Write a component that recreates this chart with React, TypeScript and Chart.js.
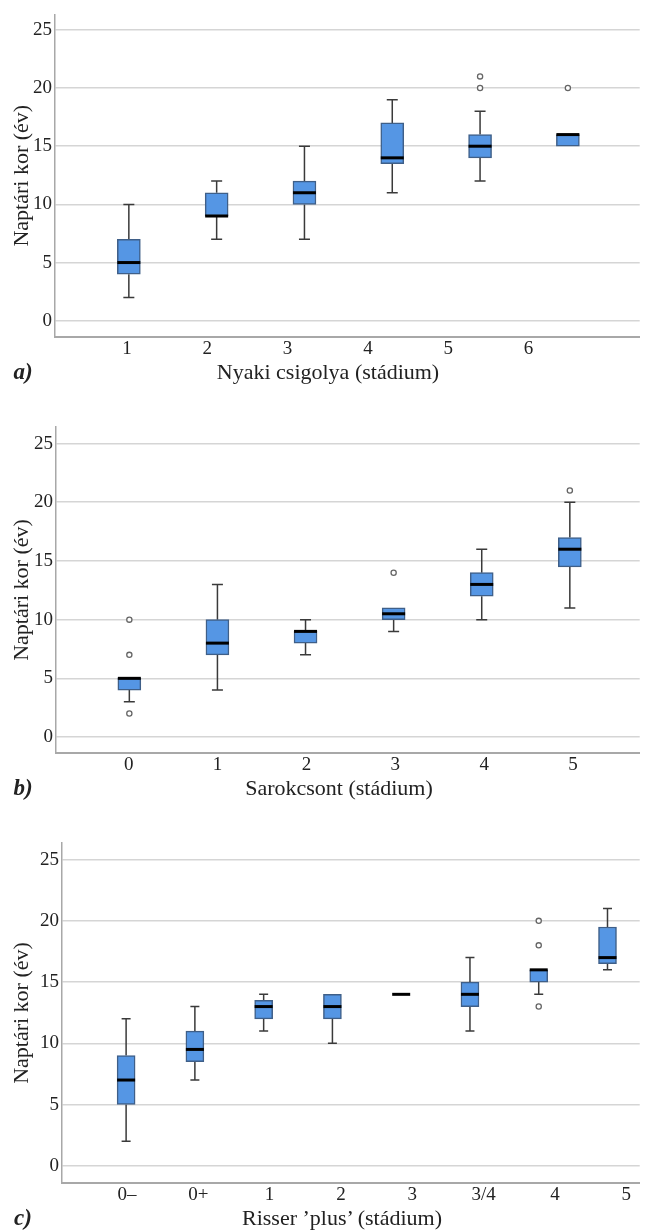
import React, { useEffect, useRef } from 'react';
import { Chart, registerables } from 'chart.js';

Chart.register(...registerables);

const FONT = "'Liberation Serif', 'Times New Roman', serif";
const TEXT = '#222222';
const yTicks = [0, 5, 10, 15, 20, 25];
const yTitle = 'Naptári kor (év)';

// Panel a) Nyaki csigolya
const catsA = ['1', '2', '3', '4', '5', '6'];
const minA = [2, 7, 7, 11, 12, 15];
const q1A = [4, 9, 10, 13.5, 14, 15];
const medA = [5, 9, 11, 14, 15, 16];
const q3A = [7, 11, 12, 17, 16, 16];
const maxA = [10, 12, 15, 19, 18, 16];
const outA = [[], [], [], [], [20, 21], [20]];

// Panel b) Sarokcsont
const catsB = ['0', '1', '2', '3', '4', '5'];
const minB = [3, 4, 7, 9, 10, 11];
const q1B = [4, 7, 8, 10, 12, 14.5];
const medB = [5, 8, 9, 10.5, 13, 16];
const q3B = [5, 10, 9, 11, 14, 17];
const maxB = [5, 13, 10, 11, 16, 20];
const outB = [[2, 7, 10], [], [], [14], [], [21]];

// Panel c) Risser 'plus'
const catsC = ['0–', '0+', '1', '2', '3', '3/4', '4', '5'];
const minC = [2, 7, 11, 10, 14, 11, 14, 16];
const q1C = [5, 8.5, 12, 12, 14, 13, 15, 16.5];
const medC = [7, 9.5, 13, 13, 14, 14, 16, 17];
const q3C = [9, 11, 13.5, 14, 14, 15, 16, 19.5];
const maxC = [12, 13, 14, 14, 14, 17, 16, 21];
const outC = [[], [], [], [], [], [], [13, 18, 20], []];

type Spec = {
  cats: string[];
  mins: number[];
  q1s: number[];
  meds: number[];
  q3s: number[];
  maxs: number[];
  outs: number[][];
  top: number;
  height: number;
  padTop: number;
  yWidth: number;
  boxMin: number;
  boxMax: number;
  labMin: number;
  labMax: number;
  yMin: number;
  yMax: number;
  boxW: number;
  capW: number;
  xTitle: string;
  xTitleX: number;
  xTitleY: number;
  letter: string;
};

const specs: Spec[] = [
  {
    cats: catsA, mins: minA, q1s: q1A, meds: medA, q3s: q3A, maxs: maxA, outs: outA,
    top: 0, height: 365, padTop: 12, yWidth: 55,
    boxMin: -0.841, boxMax: 5.818, labMin: -0.896, labMax: 6.384,
    yMin: -1.4, yMax: 26.33, boxW: 23, capW: 11,
    xTitle: 'Nyaki csigolya (stádium)', xTitleX: 328, xTitleY: 372, letter: 'a)',
  },
  {
    cats: catsB, mins: minB, q1s: q1B, meds: medB, q3s: q3B, maxs: maxB, outs: outB,
    top: 400, height: 381, padTop: 27, yWidth: 56,
    boxMin: -(130 - 56) / 88.9, boxMax: -(130 - 56) / 88.9 + 589 / 88.9,
    labMin: -(129.3 - 56) / 89.7, labMax: -(129.3 - 56) / 89.7 + 589 / 89.7,
    yMin: -1.36, yMax: 26.41, boxW: 23, capW: 11,
    xTitle: 'Sarokcsont (stádium)', xTitleX: 339, xTitleY: 788, letter: 'b)',
  },
  {
    cats: catsC, mins: minC, q1s: q1C, meds: medC, q3s: q3C, maxs: maxC, outs: outC,
    top: 820, height: 391, padTop: 23, yWidth: 62,
    boxMin: -(126.7 - 62) / 69.4, boxMax: -(126.7 - 62) / 69.4 + 583 / 69.4,
    labMin: -(127.5 - 62) / 72, labMax: -(127.5 - 62) / 72 + 583 / 72,
    yMin: -1.41, yMax: 26.36, boxW: 18, capW: 9,
    xTitle: 'Risser ’plus’ (stádium)', xTitleX: 342, xTitleY: 1218, letter: 'c)',
  },
];

function makeBoxPlugin(s: Spec) {
  return {
    id: 'boxWhiskers',
    beforeDatasetsDraw(chart: any) {
      const ctx = chart.ctx;
      const xs = chart.scales.xb;
      const ys = chart.scales.y;
      ctx.save();
      ctx.strokeStyle = '#3a3a3a';
      ctx.lineWidth = 1.5;
      s.cats.forEach((_, i) => {
        const x = xs.getPixelForValue(i);
        const segs: [number, number][] = [];
        if (s.mins[i] < s.q1s[i]) segs.push([s.mins[i], s.q1s[i]]);
        if (s.maxs[i] > s.q3s[i]) segs.push([s.maxs[i], s.q3s[i]]);
        segs.forEach(([end, edge]) => {
          const yE = ys.getPixelForValue(end);
          const yB = ys.getPixelForValue(edge);
          ctx.beginPath();
          ctx.moveTo(x, yE);
          ctx.lineTo(x, yB);
          ctx.moveTo(x - s.capW / 2, yE);
          ctx.lineTo(x + s.capW / 2, yE);
          ctx.stroke();
        });
      });
      ctx.restore();
    },
    afterDatasetsDraw(chart: any) {
      const ctx = chart.ctx;
      const xs = chart.scales.xb;
      const ys = chart.scales.y;
      ctx.save();
      ctx.strokeStyle = '#000000';
      ctx.lineWidth = 3;
      s.cats.forEach((_, i) => {
        const x = xs.getPixelForValue(i);
        const y = ys.getPixelForValue(s.meds[i]);
        ctx.beginPath();
        ctx.moveTo(x - s.boxW / 2, y);
        ctx.lineTo(x + s.boxW / 2, y);
        ctx.stroke();
      });
      ctx.restore();
    },
  };
}

function Panel({ s }: { s: Spec }) {
  const ref = useRef<HTMLCanvasElement | null>(null);
  useEffect(() => {
    if (!ref.current) return;
    const outliers: { x: number; y: number }[] = [];
    s.outs.forEach((arr, i) => arr.forEach((v) => outliers.push({ x: i, y: v })));
    const chart = new Chart(ref.current, {
      type: 'bar',
      data: {
        datasets: [
          {
            type: 'bar',
            data: s.cats.map((_, i) => ({ x: i, y: [s.q1s[i], s.q3s[i]] })) as any,
            xAxisID: 'xb',
            yAxisID: 'y',
            backgroundColor: '#5596e4',
            borderColor: '#3f5f88',
            borderWidth: 1.5,
            borderSkipped: false,
            barThickness: s.boxW,
          } as any,
          {
            type: 'scatter',
            data: outliers,
            xAxisID: 'xb',
            yAxisID: 'y',
            pointRadius: 2.6,
            pointBackgroundColor: '#ffffff',
            pointBorderColor: '#666666',
            pointBorderWidth: 1.3,
            showLine: false,
          } as any,
        ],
      },
      options: {
        responsive: false,
        animation: false,
        layout: { padding: { top: s.padTop, left: 0, right: 0, bottom: 0 } },
        plugins: { legend: { display: false }, tooltip: { enabled: false } },
        scales: {
          xb: {
            type: 'linear',
            display: false,
            offset: false,
            grid: { offset: false },
            min: s.boxMin,
            max: s.boxMax,
          },
          x: {
            type: 'linear',
            position: 'bottom',
            offset: false,
            min: s.labMin,
            max: s.labMax,
            grid: { display: false, drawTicks: false, offset: false },
            border: { display: true, color: '#a8a8a8', width: 2 },
            afterBuildTicks: (scale: any) => {
              scale.ticks = s.cats.map((_, i) => ({ value: i }));
            },
            afterFit: (scale: any) => {
              scale.height = 28;
            },
            ticks: {
              autoSkip: false,
              maxRotation: 0,
              padding: 1,
              color: TEXT,
              font: { family: FONT, size: 19 },
              callback: (v: any) => s.cats[v as number],
            },
          },
          y: {
            type: 'linear',
            min: s.yMin,
            max: s.yMax,
            afterBuildTicks: (scale: any) => {
              scale.ticks = yTicks.map((v) => ({ value: v }));
            },
            afterFit: (scale: any) => {
              scale.width = s.yWidth;
            },
            grid: { color: '#d5d5d5', lineWidth: 1.5, drawTicks: false },
            border: { display: true, color: '#a8a8a8', width: 1.5 },
            ticks: {
              padding: 3,
              color: TEXT,
              font: { family: FONT, size: 19 },
            },
            title: {
              display: true,
              text: yTitle,
              color: TEXT,
              font: { family: FONT, size: 22 },
              padding: { top: 9, bottom: 0 },
            },
          },
        } as any,
      },
      plugins: [makeBoxPlugin(s)],
    });
    return () => chart.destroy();
  }, [s]);

  const textStyle: React.CSSProperties = {
    position: 'absolute',
    fontFamily: FONT,
    color: TEXT,
    fontSize: 22,
    lineHeight: '26px',
    whiteSpace: 'nowrap',
    transform: 'translate(-50%, -50%)',
  };

  return (
    <>
      <canvas
        ref={ref}
        width={645}
        height={s.height}
        style={{ position: 'absolute', left: 0, top: s.top, width: 645, height: s.height, display: 'block' }}
      />
      <div style={{ ...textStyle, left: s.xTitleX, top: s.xTitleY }}>{s.xTitle}</div>
      <div
        style={{
          ...textStyle,
          left: 23,
          top: s.xTitleY,
          fontWeight: 'bold',
          fontStyle: 'italic',
          fontSize: 23,
        }}
      >
        {s.letter}
      </div>
    </>
  );
}

export default function App() {
  return (
    <div
      style={{
        position: 'absolute',
        left: 0,
        top: 0,
        width: 645,
        height: 1230,
        background: '#ffffff',
        overflow: 'hidden',
      }}
    >
      {specs.map((s) => (
        <Panel key={s.letter} s={s} />
      ))}
    </div>
  );
}
